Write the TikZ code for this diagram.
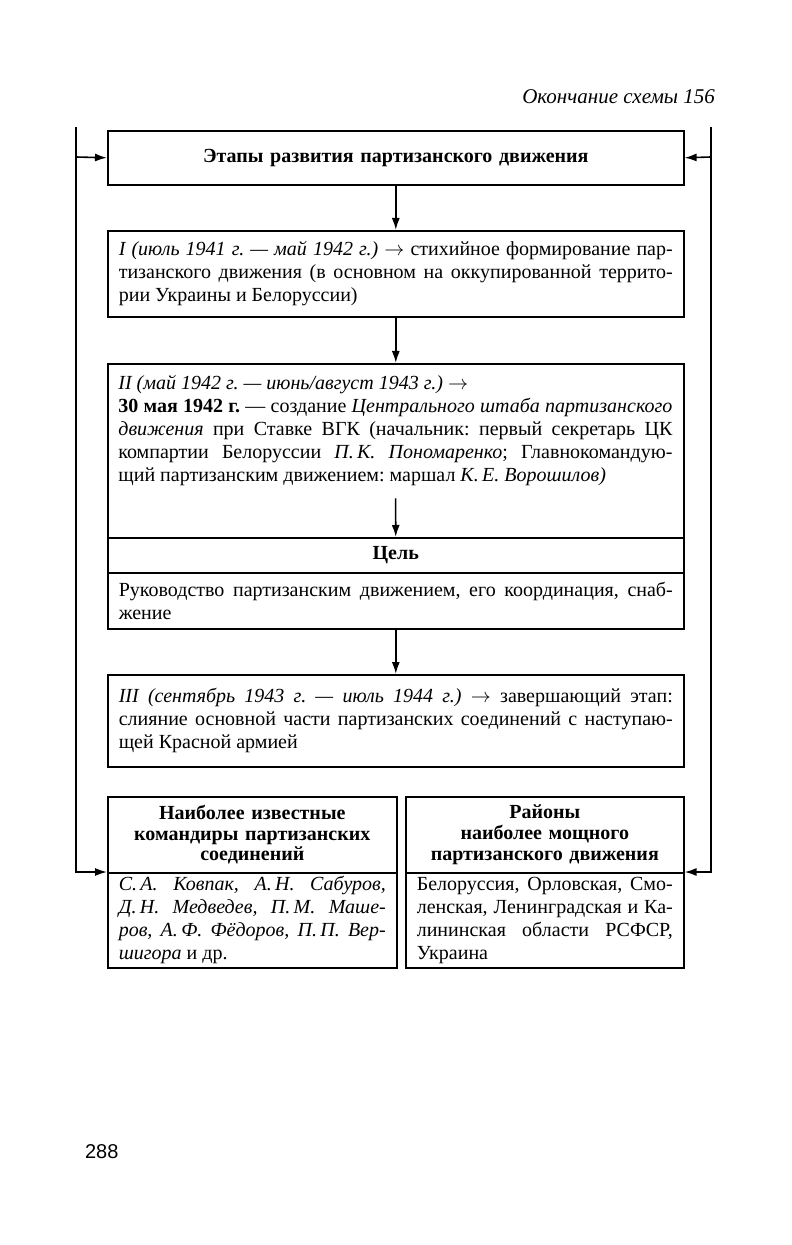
\documentclass[tikz,border=0pt]{standalone}
\usepackage{fontspec}
\setmainfont{Liberation Serif}
\newfontfamily\pagefont{Liberation Sans}
\usetikzlibrary{arrows.meta}
\hyphenpenalty=10000
\exhyphenpenalty=10000
\emergencystretch=2em
\frenchspacing

\tikzset{
  txt/.style={font=\fontsize{10}{11.5}\selectfont},
  stagebox/.style={draw, thick, anchor=north west, inner xsep=5.5pt, inner ysep=2.5pt,
                   text width=277pt, align=justify, txt},
  headbox/.style={draw, thick, anchor=north west, inner xsep=5.5pt, inner ysep=3pt,
                  align=center, font=\fontsize{10}{10.3}\selectfont\bfseries},
  arr/.style={thick, -{Latex[length=6pt,width=4pt]}},
}

\begin{document}
\begin{tikzpicture}[x=0.5pt,y=-0.5pt]
\useasboundingbox (0,0) rectangle (791,1245);
\path % the boxes of the scheme
  node[anchor=east, font=\fontsize{10.5}{12}\selectfont\itshape] (head) at (722,97) {Окончание схемы 156}
  node[headbox, text width=277pt, minimum height=27pt] (1) at (107,130)
      {Этапы развития партизанского движения}
  node[stagebox, minimum height=43pt] (2) at (107,230)
      {\textit{I (июль 1941 г. — май 1942 г.)} $\rightarrow$ стихийное формирование пар-\linebreak
       тизанского движения (в основном на оккупированной террито-\linebreak
       рии Украины и Белоруссии)}
  node[draw, thick, anchor=north west, inner sep=0pt, minimum width=288pt, minimum height=87pt] (3) at (107,363) {}
  node[anchor=north west, inner xsep=5.5pt, inner ysep=6pt, text width=277pt, align=justify, txt] (3t) at (3.north west)
      {\textit{II (май 1942 г. — июнь/август 1943 г.)} $\rightarrow$\newline
       \textbf{30 мая 1942 г.} — создание \textit{Центрального штаба партизанского}\linebreak
       \textit{движения} при Ставке ВГК (начальник: первый секретарь ЦК\linebreak
       компартии Белоруссии \textit{П.\,К. Пономаренко}; Главнокомандую-\linebreak
       щий партизанским движением: маршал \textit{К.\,Е. Ворошилов)}}
  node[headbox, text width=277pt, minimum height=17.5pt] (3b) at (107,537) {Цель}
  node[stagebox, minimum height=28pt] (3c) at (107,572)
      {Руководство партизанским движением, его координация, снаб-\linebreak
       жение}
  node[stagebox, minimum height=46pt] (4) at (107,674)
      {\textit{III (сентябрь 1943 г. — июль 1944 г.)} $\rightarrow$ завершающий этап:\linebreak
       слияние основной части партизанских соединений с наступаю-\linebreak
       щей Красной армией}
  node[headbox, text width=133.5pt, minimum height=38pt] (5a) at (107,796)
      {Наиболее известные\\командиры партизанских\\соединений}
  node[stagebox, inner ysep=1pt, text width=133.5pt, minimum height=47.5pt] (5b) at (107,872)
      {\textit{С.\,А. Ковпак, А.\,Н. Сабуров,\linebreak
       Д.\,Н. Медведев, П.\,М. Маше-\linebreak
       ров, А.\,Ф. Фёдоров, П.\,П. Вер-\linebreak
       шигора} и др.}
  node[headbox, text width=128pt, minimum height=38pt] (6a) at (405,796)
      {Районы\\наиболее мощного\\партизанского движения}
  node[stagebox, inner ysep=1pt, text width=128pt, minimum height=47.5pt] (6b) at (405,872)
      {Белоруссия, Орловская, Смо-\linebreak
       ленская, Ленинградская и Ка-\linebreak
       лининская области РСФСР,\linebreak
       Украина}
  node[anchor=west, font=\pagefont\fontsize{10}{12}\selectfont] (page) at (78,1152) {288};

\coordinate (L1) at (76,127);
\coordinate (L2) at (76,157);
\coordinate (R1) at (711,127);
\coordinate (R2) at (711,157);

\draw[arr] (1) -- (2);
\draw[arr] (2) -- (3);
\draw[arr] (3t) -- (3b);
\draw[arr] (3c) -- (4);

\draw[arr] (L1) |- (5b.north west);
\draw[arr] (L2) -- (1.west);
\draw[arr] (R1) |- (6b.north east);
\draw[arr] (R2) -- (1.east);
\end{tikzpicture}
\end{document}
